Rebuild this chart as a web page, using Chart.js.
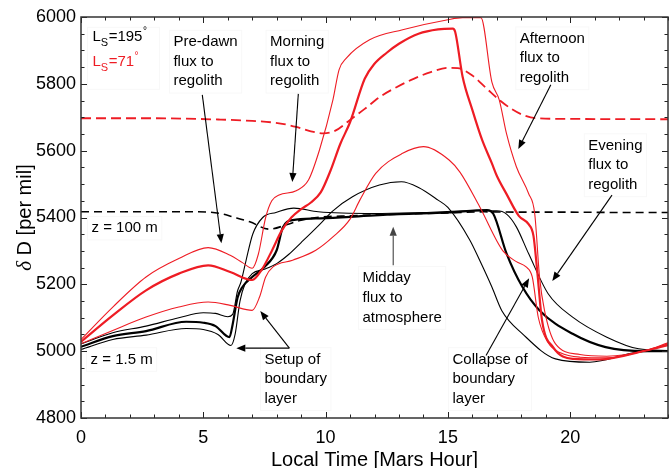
<!DOCTYPE html>
<html>
<head>
<meta charset="utf-8">
<script src="https://cdn.jsdelivr.net/npm/chart.js@4.4.1/dist/chart.umd.min.js"></script>
<style>
  html, body { margin: 0; padding: 0; background: #fff; }
  canvas { display: block; }
</style>
</head>
<body>
<canvas id="chart" width="669" height="468" style="width:669px;height:468px"></canvas>
<script>
// Diurnal cycle of deuterium enrichment (delta D, per mil) near the Martian surface

const xTickValues = [0, 5, 10, 15, 20];
const yTickValues = [4800, 5000, 5200, 5400, 5600, 5800, 6000];

// Ls = 195 deg, z = 100 m
const hoursLs195High = [0, 2, 4.8, 5.7, 6.2, 6.9, 7.7, 8.4, 9.0, 9.8, 11, 12.5, 14, 15.2, 16.5, 18, 20, 22, 24];
const deltaLs195High = [5417, 5417, 5417, 5412, 5402, 5387, 5365, 5378, 5392, 5401, 5405, 5409, 5412, 5414, 5417, 5416, 5416, 5415, 5415];

// Ls = 71 deg, z = 100 m
const hoursLs71High = [0, 3, 5.7, 7.0, 8.1, 8.8, 9.4, 9.9, 10.4, 11.0, 11.6, 12.2, 12.9, 13.6, 14.3, 15.0, 15.4, 16.0, 16.6, 17.1, 17.6, 18.1, 18.6, 20, 24];
const deltaLs71High = [5697, 5697, 5693, 5689, 5682, 5671, 5658, 5652, 5660, 5692, 5725, 5760, 5790, 5815, 5835, 5848, 5847, 5825, 5785, 5752, 5725, 5706, 5697, 5695, 5694];

// Ls = 71 deg, near-surface curves
const hoursLs71Upper = [0, 1.3, 2.66, 4.0, 5.2, 6.1, 6.6, 7.0, 7.25, 7.55, 7.8, 8.1, 8.8, 9.3, 9.75, 10.3, 10.55, 10.85, 11.8, 13.15, 15.0, 15.6, 16.35, 16.8, 17.1, 17.4, 17.8, 18.3, 18.55, 18.75, 18.95, 19.4, 20.4, 21.5, 23.1, 24];
const deltaLs71Upper = [5035, 5132, 5222, 5277, 5310, 5287, 5265, 5248, 5290, 5400, 5450, 5467, 5480, 5512, 5602, 5752, 5842, 5877, 5932, 5962, 5992, 5998, 5998, 5805, 5752, 5650, 5552, 5472, 5412, 5220, 5122, 5022, 4990, 4985, 5002, 5025];

const hoursLs71Mid = [0, 1.3, 2.66, 4.0, 5.2, 6.1, 7.0, 7.4, 7.8, 8.2, 8.6, 9.0, 9.4, 9.8, 10.2, 10.6, 11.0, 11.6, 12.0, 12.5, 13.0, 13.8, 14.6, 15.2, 15.3, 15.6, 16.0, 16.4, 16.8, 17.0, 17.4, 17.9, 18.3, 18.5, 18.65, 18.85, 19.3, 20.1, 21.2, 23.1, 24];
const deltaLs71Mid = [5028, 5107, 5182, 5232, 5257, 5237, 5213, 5245, 5300, 5360, 5400, 5425, 5445, 5475, 5540, 5620, 5685, 5815, 5860, 5893, 5920, 5950, 5963, 5965, 5955, 5822, 5722, 5632, 5562, 5525, 5470, 5405, 5380, 5345, 5242, 5092, 5012, 4977, 4975, 5002, 5018];

const hoursLs71Lower = [0, 1.3, 2.66, 4.0, 5.2, 6.1, 7.0, 7.3, 7.55, 7.85, 8.65, 9.6, 10.3, 11.0, 11.4, 12.05, 13.15, 14.0, 15.05, 15.5, 16.3, 17.25, 17.8, 18.2, 18.45, 18.7, 19.1, 19.6, 20.4, 21.5, 23.1, 24];
const deltaLs71Lower = [5022, 5062, 5102, 5132, 5147, 5137, 5122, 5162, 5222, 5252, 5272, 5302, 5342, 5395, 5452, 5532, 5592, 5612, 5572, 5535, 5432, 5300, 5268, 5252, 5222, 5100, 5025, 4995, 4982, 4980, 5002, 5022];

// Ls = 195 deg, near-surface curves
const hoursLs195Upper = [0, 1.3, 2.66, 4.0, 5.0, 5.5, 6.0, 6.2, 6.4, 6.54, 6.75, 7.02, 7.43, 7.97, 8.7, 9.7, 12, 14, 16, 17.0, 17.4, 17.8, 18.3, 19.1, 20.1, 21.5, 22.8, 24];
const deltaLs195Upper = [5022, 5055, 5075, 5100, 5115, 5113, 5103, 5110, 5180, 5207, 5272, 5350, 5400, 5415, 5428, 5417, 5412, 5415, 5420, 5420, 5410, 5372, 5292, 5172, 5102, 5042, 5007, 5002];

const hoursLs195Mid = [0, 1.3, 2.66, 4.3, 5.0, 5.5, 6.07, 6.2, 6.4, 6.6, 7.0, 7.5, 8.0, 8.25, 8.65, 9.6, 11, 13, 15, 16.6, 16.85, 17.4, 18.05, 18.75, 20.1, 21.45, 23.1, 24];
const deltaLs195Mid = [5013, 5045, 5060, 5088, 5085, 5075, 5042, 5080, 5160, 5192, 5222, 5252, 5302, 5370, 5392, 5397, 5402, 5410, 5415, 5422, 5412, 5292, 5192, 5122, 5052, 5012, 5000, 5000];

const hoursLs195Lower = [0, 1.3, 2.66, 4.3, 5.0, 5.6, 6.13, 6.3, 6.5, 6.7, 7.0, 7.5, 8.0, 8.5, 9.0, 9.7, 10.3, 11.1, 12.2, 13.1, 13.8, 14.6, 15.0, 15.9, 16.3, 16.8, 17.2, 18.05, 19.4, 20.8, 22.8, 24];
const deltaLs195Lower = [5005, 5035, 5048, 5068, 5065, 5050, 5017, 5050, 5150, 5200, 5232, 5245, 5262, 5290, 5325, 5375, 5420, 5462, 5497, 5507, 5490, 5452, 5430, 5332, 5272, 5192, 5122, 5052, 4977, 4967, 4997, 5000];

const RED = '#ee1c24';
const BLACK = '#000000';

function series(hours, values) {
  return hours.map((h, i) => ({ x: h, y: values[i] }));
}

function line(hours, values, color, width, dash) {
  return {
    data: series(hours, values),
    borderColor: color,
    borderWidth: width,
    borderDash: dash || [],
    pointRadius: 0,
    fill: false,
    cubicInterpolationMode: 'monotone'
  };
}

// first dataset is drawn on top
const datasets = [
  line(hoursLs71Upper, deltaLs71Upper, RED, 1.1),
  line(hoursLs71Mid, deltaLs71Mid, RED, 2.2),
  line(hoursLs71Lower, deltaLs71Lower, RED, 1.1),
  line(hoursLs71High, deltaLs71High, RED, 1.8, [10, 5]),
  line(hoursLs195Upper, deltaLs195Upper, BLACK, 1.1),
  line(hoursLs195Mid, deltaLs195Mid, BLACK, 2.2),
  line(hoursLs195Lower, deltaLs195Lower, BLACK, 1.1),
  line(hoursLs195High, deltaLs195High, BLACK, 1.6, [8, 5])
];

// Annotation text, anchored in data units (hour, delta D) at the first line
const notes = [
  { lines: ['Pre-dawn', 'flux to', 'regolith'], at: [3.78, 5925] },
  { lines: ['Morning', 'flux to', 'regolith'], at: [7.73, 5925] },
  { lines: ['Afternoon', 'flux to', 'regolith'], at: [17.94, 5935] },
  { lines: ['Evening', 'flux to', 'regolith'], at: [20.74, 5615] },
  { lines: ['Midday', 'flux to', 'atmosphere'], at: [11.51, 5218] },
  { lines: ['Setup of', 'boundary', 'layer'], at: [7.5, 4975] },
  { lines: ['Collapse of', 'boundary', 'layer'], at: [15.19, 4975] },
  { lines: ['z = 100 m'], at: [0.43, 5368] },
  { lines: ['z = 1.5 m'], at: [0.39, 4975] }
];

const arrows = [
  { from: [4.96, 5767], to: [5.74, 5323], color: '#000' },
  { from: [8.885, 5770], to: [8.64, 5506], color: '#000' },
  { from: [19.21, 5797], to: [17.88, 5605], color: '#000' },
  { from: [21.71, 5467], to: [19.27, 5210], color: '#000' },
  { from: [12.765, 5257], to: [12.765, 5372], color: '#444' },
  { from: [8.52, 5009], to: [7.33, 5120], color: '#000' },
  { from: [8.52, 5009], to: [6.35, 5009], color: '#000' },
  { from: [16.56, 4987], to: [18.32, 5218], color: '#000' }
];

const legendEntries = [
  { value: '195', color: BLACK, at: [0.47, 5927] },
  { value: '71', color: RED, at: [0.47, 5852] }
];

const NOTE_FONT = '15px "Liberation Sans", Arial, sans-serif';
const NOTE_LINE = 19.6;

function noteBox(ctx, note, x, y) {
  ctx.font = NOTE_FONT;
  let w = 0;
  note.lines.forEach(t => { w = Math.max(w, ctx.measureText(t).width); });
  const h = NOTE_LINE * note.lines.length;
  return { x: x - 4, y: y - NOTE_LINE / 2 - 2, w: w + 8, h: h + 4 };
}

function drawArrow(ctx, x1, y1, x2, y2, color) {
  const ang = Math.atan2(y2 - y1, x2 - x1);
  const len = 9, half = 3.6;
  const bx = x2 - len * Math.cos(ang), by = y2 - len * Math.sin(ang);
  ctx.save();
  ctx.strokeStyle = color;
  ctx.fillStyle = color;
  ctx.lineWidth = 1.1;
  ctx.beginPath();
  ctx.moveTo(x1, y1);
  ctx.lineTo(bx, by);
  ctx.stroke();
  ctx.beginPath();
  ctx.moveTo(x2, y2);
  ctx.lineTo(bx + half * Math.sin(ang), by - half * Math.cos(ang));
  ctx.lineTo(bx - half * Math.sin(ang), by + half * Math.cos(ang));
  ctx.closePath();
  ctx.fill();
  ctx.restore();
}

const decorations = {
  id: 'decorations',
  beforeDatasetsDraw(chart) {
    const { ctx, scales: { x, y } } = chart;
    ctx.save();
    // faint label frames
    ctx.strokeStyle = '#f8f8f8';
    ctx.lineWidth = 1;
    notes.forEach(n => {
      const b = noteBox(ctx, n, x.getPixelForValue(n.at[0]), y.getPixelForValue(n.at[1]));
      ctx.strokeRect(b.x, b.y, b.w, b.h);
    });
    const lx = x.getPixelForValue(0.47), ly = y.getPixelForValue(5960);
    ctx.strokeRect(lx - 5, ly - 3, 72, 62);
    ctx.restore();
  },
  afterDatasetsDraw(chart) {
    const { ctx, chartArea: a, scales: { x, y } } = chart;
    ctx.save();

    // ticks on all four sides, pointing inward
    ctx.strokeStyle = '#222';
    ctx.lineWidth = 1;
    ctx.beginPath();
    for (let h = 0; h <= 24; h++) {
      const px = Math.round(x.getPixelForValue(h)) + 0.5;
      const len = h % 5 === 0 ? 6 : 3.5;
      ctx.moveTo(px, a.bottom); ctx.lineTo(px, a.bottom - len);
      ctx.moveTo(px, a.top); ctx.lineTo(px, a.top + len);
    }
    for (let v = 4800; v <= 6000; v += 50) {
      const py = Math.round(y.getPixelForValue(v)) + 0.5;
      const len = v % 200 === 0 ? 6 : 3.5;
      ctx.moveTo(a.left, py); ctx.lineTo(a.left + len, py);
      ctx.moveTo(a.right, py); ctx.lineTo(a.right - len, py);
    }
    ctx.stroke();

    // plot frame
    ctx.strokeStyle = '#333';
    ctx.lineWidth = 1.5;
    ctx.strokeRect(a.left, a.top, a.right - a.left, a.bottom - a.top);

    // annotation text
    ctx.fillStyle = '#000';
    ctx.font = NOTE_FONT;
    ctx.textAlign = 'left';
    ctx.textBaseline = 'middle';
    notes.forEach(n => {
      const px = x.getPixelForValue(n.at[0]);
      const py = y.getPixelForValue(n.at[1]);
      n.lines.forEach((t, i) => ctx.fillText(t, px, py + i * NOTE_LINE));
    });

    // arrows
    arrows.forEach(ar => {
      drawArrow(ctx,
        x.getPixelForValue(ar.from[0]), y.getPixelForValue(ar.from[1]),
        x.getPixelForValue(ar.to[0]), y.getPixelForValue(ar.to[1]), ar.color);
    });

    // season legend: L_S = value deg
    ctx.textBaseline = 'alphabetic';
    legendEntries.forEach(e => {
      let px = x.getPixelForValue(e.at[0]);
      const py = y.getPixelForValue(e.at[1]);
      ctx.fillStyle = e.color;
      ctx.font = '15px "Liberation Sans", Arial, sans-serif';
      ctx.fillText('L', px, py);
      px += ctx.measureText('L').width;
      ctx.font = '11px "Liberation Sans", Arial, sans-serif';
      ctx.fillText('S', px, py + 5);
      px += ctx.measureText('S').width + 0.5;
      ctx.font = '15px "Liberation Sans", Arial, sans-serif';
      const txt = '=' + e.value;
      ctx.fillText(txt, px, py);
      px += ctx.measureText(txt).width + 0.5;
      ctx.font = '10px "Liberation Sans", Arial, sans-serif';
      ctx.fillText('\u00b0', px, py - 7);
    });

    // axis titles
    ctx.fillStyle = '#000';
    ctx.font = '20px "Liberation Sans", Arial, sans-serif';
    ctx.textAlign = 'center';
    ctx.fillText('Local Time [Mars Hour]', (a.left + a.right) / 2, 466);

    ctx.save();
    ctx.translate(31, (a.top + a.bottom) / 2);
    ctx.rotate(-Math.PI / 2);
    ctx.textAlign = 'left';
    const greek = 'italic 21px "Liberation Serif", serif';
    const rest = '20px "Liberation Sans", Arial, sans-serif';
    ctx.font = greek;
    const wg = ctx.measureText('\u03b4').width;
    ctx.font = rest;
    const wr = ctx.measureText(' D [per mil]').width;
    const start = -(wg + wr) / 2;
    ctx.font = greek;
    ctx.fillText('\u03b4', start, 0);
    ctx.font = rest;
    ctx.fillText(' D [per mil]', start + wg, 0);
    ctx.restore();

    ctx.restore();
  }
};

const tickFont = { family: '"Liberation Sans", Arial, sans-serif', size: 18 };

new Chart(document.getElementById('chart'), {
  type: 'line',
  data: { datasets },
  options: {
    responsive: false,
    animation: false,
    devicePixelRatio: 1,
    layout: { padding: { left: 0, right: 1, top: 17, bottom: 0 } },
    plugins: { legend: { display: false }, tooltip: { enabled: false } },
    scales: {
      x: {
        type: 'linear',
        min: 0,
        max: 24,
        afterBuildTicks: s => { s.ticks = xTickValues.map(v => ({ value: v })); },
        afterFit: s => { s.height = 50; },
        grid: { display: false, drawTicks: false },
        border: { display: false },
        ticks: { font: tickFont, color: '#000', padding: 9, maxRotation: 0, callback: v => String(v) }
      },
      y: {
        type: 'linear',
        min: 4800,
        max: 6000,
        afterBuildTicks: s => { s.ticks = yTickValues.map(v => ({ value: v })); },
        afterFit: s => { s.width = 81; },
        grid: { display: false, drawTicks: false },
        border: { display: false },
        ticks: { font: tickFont, color: '#000', padding: 5, callback: v => String(v) }
      }
    }
  },
  plugins: [decorations]
});
</script>
</body>
</html>
